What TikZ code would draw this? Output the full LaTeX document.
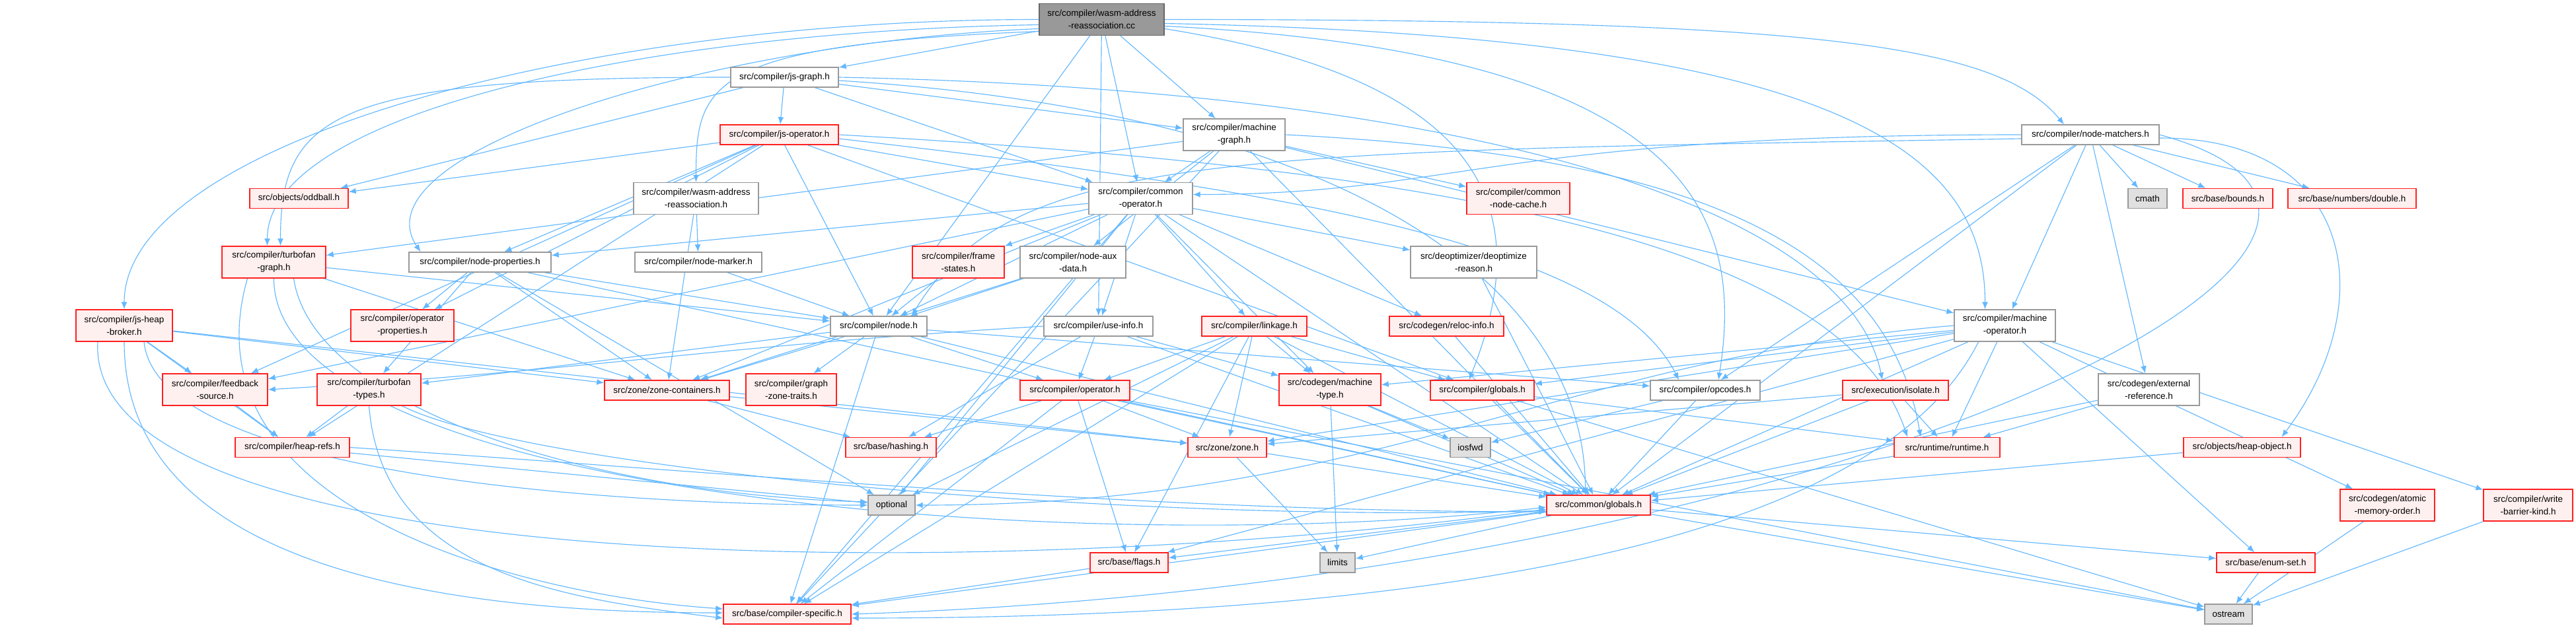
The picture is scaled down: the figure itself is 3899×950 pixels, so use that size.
\documentclass[tikz,border=0pt]{standalone}
\usepackage{fontspec}
\setmainfont{Liberation Sans}
\usetikzlibrary{arrows.meta}
\definecolor{eblue}{HTML}{63B8FF}
\definecolor{gborder}{HTML}{999999}
\definecolor{rfill}{HTML}{FFF0F0}
\definecolor{sysfill}{HTML}{E0E0E0}
\definecolor{rootborder}{HTML}{666666}
\definecolor{rborder}{HTML}{FF2020}
\pgfdeclarelayer{bg}
\pgfsetlayers{bg,main}
\tikzset{
 nb/.style={draw, line width=1.4pt, inner sep=0pt, align=center, minimum height=30pt, font=\fontsize{13.5}{19}\selectfont},
 wn/.style={nb, draw=gborder, fill=white},
 rn/.style={nb, draw=rborder, fill=rfill},
 sn/.style={nb, draw=gborder, fill=sysfill},
 tn/.style={nb, draw=rootborder, fill=gborder},
 two/.style={minimum height=48pt},
 ed/.style={draw=eblue, line width=1.15pt, -{Latex[length=11pt,width=9pt]}},
}
\begin{document}
\begin{tikzpicture}[x=1pt,y=1pt]
\useasboundingbox (0,0) rectangle (3899,-950);
\node[tn,two,minimum width=189pt] (root) at (1667.5,-29.5) {src/compiler/wasm-address\\-reassociation.cc};
\node[wn,minimum width=163pt] (jsgraph) at (1187.5,-117) {src/compiler/js-graph.h};
\node[rn,minimum width=179pt] (jsop) at (1179.5,-204) {src/compiler/js-operator.h};
\node[wn,two,minimum width=154pt] (mgraph) at (1868,-204) {src/compiler/machine\\-graph.h};
\node[wn,minimum width=208pt] (nmatch) at (3164,-204) {src/compiler/node-matchers.h};
\node[rn,minimum width=149pt] (oddball) at (452.5,-300.5) {src/objects/oddball.h};
\node[wn,two,minimum width=189pt] (wasmh) at (1053.5,-300.5) {src/compiler/wasm-address\\-reassociation.h};
\node[wn,two,minimum width=157pt] (commonop) at (1726.5,-300.5) {src/compiler/common\\-operator.h};
\node[rn,two,minimum width=156pt] (cnc) at (2298,-300.5) {src/compiler/common\\-node-cache.h};
\node[sn,minimum width=59pt] (cmath) at (3250.5,-300.5) {cmath};
\node[rn,minimum width=136pt] (bounds) at (3372,-300.5) {src/base/bounds.h};
\node[rn,minimum width=194pt] (double) at (3560,-300.5) {src/base/numbers/double.h};
\node[rn,two,minimum width=157pt] (tfgraph) at (414.5,-397) {src/compiler/turbofan\\-graph.h};
\node[wn,minimum width=215pt] (nprops) at (726.5,-397) {src/compiler/node-properties.h};
\node[wn,minimum width=192pt] (nmarker) at (1057,-397) {src/compiler/node-marker.h};
\node[rn,two,minimum width=139pt] (fstates) at (1450.5,-397) {src/compiler/frame\\-states.h};
\node[wn,two,minimum width=160pt] (nauxdata) at (1624,-397) {src/compiler/node-aux\\-data.h};
\node[wn,two,minimum width=191pt] (deopt) at (2230.5,-397) {src/deoptimizer/deoptimize\\-reason.h};
\node[rn,two,minimum width=146pt] (jsheap) at (188,-493) {src/compiler/js-heap\\-broker.h};
\node[rn,two,minimum width=156pt] (opprops) at (609,-493) {src/compiler/operator\\-properties.h};
\node[wn,two,minimum width=153pt] (machop) at (3034.5,-493) {src/compiler/machine\\-operator.h};
\node[wn,minimum width=146pt] (node) at (1330,-494) {src/compiler/node.h};
\node[wn,minimum width=165pt] (useinfo) at (1662.5,-494) {src/compiler/use-info.h};
\node[rn,minimum width=159pt] (linkage) at (1898.5,-494) {src/compiler/linkage.h};
\node[rn,minimum width=173pt] (reloc) at (2189.5,-494) {src/codegen/reloc-info.h};
\node[rn,two,minimum width=159pt] (feedback) at (325.5,-590) {src/compiler/feedback\\-source.h};
\node[rn,two,minimum width=157pt] (tftypes) at (558.5,-590) {src/compiler/turbofan\\-types.h};
\node[rn,two,minimum width=137pt] (graphzt) at (1197.5,-590) {src/compiler/graph\\-zone-traits.h};
\node[rn,two,minimum width=154pt] (mtype) at (2013,-590) {src/codegen/machine\\-type.h};
\node[wn,two,minimum width=153pt] (extref) at (3252.5,-590) {src/codegen/external\\-reference.h};
\node[rn,minimum width=189pt] (zonecont) at (1009.5,-591) {src/zone/zone-containers.h};
\node[rn,minimum width=166pt] (operator) at (1627,-591) {src/compiler/operator.h};
\node[rn,minimum width=157pt] (cglobals) at (2243.5,-591) {src/compiler/globals.h};
\node[wn,minimum width=166pt] (opcodes) at (2581,-591) {src/compiler/opcodes.h};
\node[rn,minimum width=160pt] (isolate) at (2869,-591) {src/execution/isolate.h};
\node[rn,minimum width=173pt] (heaprefs) at (442.5,-677.5) {src/compiler/heap-refs.h};
\node[rn,minimum width=137pt] (hashing) at (1348.5,-677.5) {src/base/hashing.h};
\node[rn,minimum width=119pt] (zone) at (1857.5,-677.5) {src/zone/zone.h};
\node[sn,minimum width=61pt] (iosfwd) at (2225.5,-677.5) {iosfwd};
\node[rn,minimum width=160pt] (runtime) at (2947,-677.5) {src/runtime/runtime.h};
\node[rn,minimum width=177pt] (heapobj) at (3393.5,-677.5) {src/objects/heap-object.h};
\node[rn,two,minimum width=143pt] (atomic) at (3613.5,-765) {src/codegen/atomic\\-memory-order.h};
\node[rn,two,minimum width=135pt] (wbk) at (3826.5,-765) {src/compiler/write\\-barrier-kind.h};
\node[sn,minimum width=71pt] (optional) at (1349.5,-765) {optional};
\node[rn,minimum width=157pt] (globals) at (2419.5,-765) {src/common/globals.h};
\node[rn,minimum width=118pt] (flags) at (1709,-852) {src/base/flags.h};
\node[sn,minimum width=53pt] (limits) at (2024.5,-852) {limits};
\node[rn,minimum width=149pt] (enumset) at (3429.5,-852) {src/base/enum-set.h};
\node[rn,minimum width=193pt] (cspec) at (1191.5,-930) {src/base/compiler-specific.h};
\node[sn,minimum width=72pt] (ostream) at (3373,-930) {ostream};

\begin{pgfonlayer}{bg}
\foreach \s/\t in {root/jsgraph, root/mgraph, root/commonop, root/node, root/useinfo,
 jsgraph/jsop, jsgraph/commonop, jsgraph/mgraph, jsgraph/oddball,
 jsop/oddball, jsop/feedback, jsop/nprops, jsop/opprops, jsop/node, jsop/commonop, jsop/cglobals, jsop/heaprefs,
 mgraph/commonop, mgraph/cnc, mgraph/nauxdata, mgraph/tfgraph, mgraph/machop, mgraph/cspec, mgraph/globals,
 commonop/fstates, commonop/deopt, commonop/reloc, commonop/linkage, commonop/useinfo, commonop/node, commonop/nprops, commonop/feedback, commonop/zonecont, commonop/mtype, commonop/cspec, commonop/globals, commonop/optional,
 wasmh/nmarker, wasmh/zonecont, nmarker/node, nauxdata/node, nauxdata/zonecont, fstates/node, deopt/globals,
 nprops/opprops, nprops/node, nprops/tftypes, nprops/zonecont, nprops/globals, nprops/optional,
 node/zonecont, node/graphzt, node/operator, node/cspec, node/opcodes, node/tftypes, node/globals,
 useinfo/hashing, useinfo/mtype, useinfo/operator, useinfo/globals,
 linkage/mtype, linkage/cglobals, linkage/operator, linkage/zone, linkage/flags, linkage/optional, linkage/globals, linkage/cspec,
 reloc/globals, operator/hashing, operator/zone, operator/flags, operator/cspec, operator/globals, operator/ostream,
 zonecont/hashing, zonecont/zone,
 jsheap/feedback, jsheap/heaprefs, jsheap/zonecont, jsheap/zone,
 tfgraph/zonecont, tfgraph/node, feedback/heaprefs, tftypes/heaprefs,
 heaprefs/optional, mtype/limits, mtype/globals, mtype/iosfwd,
 cglobals/globals, cglobals/runtime, cglobals/ostream, opcodes/iosfwd, opcodes/globals,
 isolate/runtime, isolate/globals, isolate/zone, zone/globals, zone/limits, runtime/globals,
 extref/runtime, extref/globals, heapobj/globals,
 machop/runtime, machop/atomic, machop/wbk, machop/enumset, machop/globals, machop/mtype, machop/cglobals, machop/flags, machop/zone,
 nmatch/cmath, nmatch/bounds, nmatch/double, nmatch/extref, nmatch/machop, nmatch/opcodes, nmatch/globals,
 globals/limits, globals/ostream, globals/flags, globals/cspec, globals/enumset,
 flags/cspec, enumset/ostream, atomic/ostream, wbk/ostream}
 {\draw[ed] (\s) -- (\t);}
% curved long connectors
\draw[ed] (root.west) .. controls +(-700,0) and +(0,250) .. (jsheap.north);
\draw[ed] ([yshift=-8pt]root.west) .. controls +(-600,-10) and +(0,200) .. ([xshift=-10pt]tfgraph.north);
\draw[ed] ([yshift=-14pt]root.west) .. controls +(-500,-20) and +(-100,150) .. ([xshift=-90pt]nprops.north);
\draw[ed] ([yshift=-18pt]root.west) .. controls +(-500,-20) and +(0,150) .. (wasmh.north);
\draw[ed] (root.east) .. controls +(1000,0) and +(-100,120) .. ([xshift=-40pt]nmatch.north);
\draw[ed] ([yshift=-6pt]root.east) .. controls +(1000,-20) and +(0,250) .. ([xshift=-30pt]machop.north);
\draw[ed] ([yshift=-10pt]root.east) .. controls +(800,-40) and +(40,250) .. ([xshift=20pt]opcodes.north);
\draw[ed] ([yshift=-14pt]root.east) .. controls +(500,-80) and +(100,250) .. ([xshift=-20pt]cglobals.north);
\draw[ed] (jsgraph.west) .. controls +(-600,0) and +(0,200) .. ([xshift=10pt]tfgraph.north);
\draw[ed] (jsgraph.east) .. controls +(1000,-20) and +(-50,250) .. ([xshift=-20pt]isolate.north);
\draw[ed] ([yshift=-5pt]jsgraph.east) .. controls +(800,-50) and +(0,300) .. ([xshift=-20pt]globals.north);
\draw[ed] (jsop.east) .. controls +(900,-50) and +(-100,300) .. ([xshift=-60pt]runtime.north);
\draw[ed] ([yshift=-6pt]jsop.east) .. controls +(700,-80) and +(-100,200) .. ([xshift=-40pt]opcodes.north);
\draw[ed] (mgraph.east) .. controls +(600,-30) and +(-50,300) .. ([xshift=-40pt]runtime.north);
\draw[ed] (nmatch.west) .. controls +(-800,0) and +(400,0) .. ([yshift=6pt]commonop.east);
\draw[ed] ([yshift=-6pt]nmatch.west) .. controls +(-1200,-20) and +(150,250) .. ([xshift=50pt]node.north);
\draw[ed] (nmatch.east) .. controls +(550,-150) and +(1500,50) .. (cspec.east);
\draw[ed] ([yshift=-5pt]nmatch.east) .. controls +(300,0) and +(150,200) .. ([xshift=60pt]heapobj.north);
\draw[ed] (useinfo.west) .. controls +(-500,-30) and +(500,30) .. (feedback.east);
\draw[ed] (jsheap.south) .. controls +(0,-350) and +(-400,0) .. ([yshift=2pt]cspec.west);
\draw[ed] ([xshift=-40pt]jsheap.south) .. controls +(-20,-350) and +(-900,-120) .. ([yshift=-6pt]globals.west);
\draw[ed] ([xshift=30pt]jsheap.south) .. controls +(20,-200) and +(-400,0) .. (optional.west);
\draw[ed] ([xshift=-40pt]tfgraph.south) .. controls +(-100,-350) and +(-300,20) .. ([yshift=8pt]cspec.west);
\draw[ed] (tfgraph.south) .. controls +(0,-330) and +(-700,-80) .. ([yshift=-3pt]globals.west);
\draw[ed] ([xshift=30pt]tfgraph.south) .. controls +(30,-200) and +(-400,10) .. ([yshift=5pt]optional.west);
\draw[ed] (tftypes.south) .. controls +(20,-250) and +(-250,30) .. ([yshift=-6pt]cspec.west);
\draw[ed] ([xshift=50pt]tftypes.south) .. controls +(200,-100) and +(-600,-20) .. ([yshift=-8pt]globals.west);
\draw[ed] (heaprefs.east) .. controls +(600,-40) and +(-600,0) .. ([yshift=-10pt]globals.west);
\draw[ed] ([xshift=-40pt]machop.south) .. controls +(-150,-300) and +(900,0) .. ([yshift=-6pt]cspec.east);
\draw[ed] (machop.west) .. controls +(-600,-50) and +(700,0) .. (optional.east);
\end{pgfonlayer}
\end{tikzpicture}
\end{document}
